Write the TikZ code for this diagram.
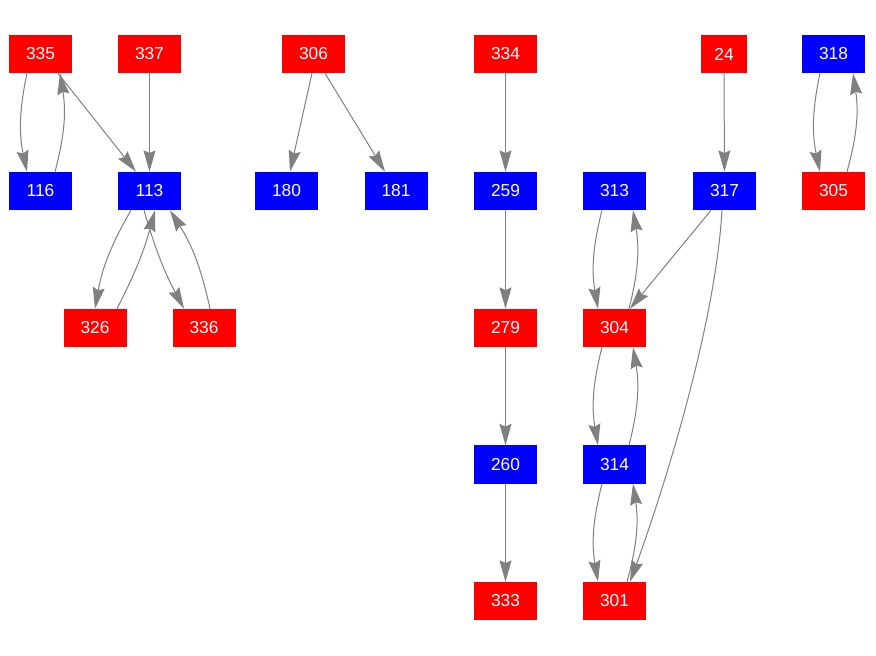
\documentclass[tikz,border=0pt]{standalone}
\usepackage{fontspec}
\setmainfont{Liberation Sans}
\usetikzlibrary{arrows.meta,calc}

\begin{document}
\begin{tikzpicture}[x=0.75pt,y=-0.75pt,
        box/.style={minimum width=47.25pt,minimum height=28.5pt,inner sep=0pt,text=white,font=\fontsize{13}{15}\selectfont},
        redbox/.style={box,fill=red},
        bluebox/.style={box,fill=blue},
        link/.style={draw=gray,line width=0.75pt,-{Stealth[length=16pt,width=9pt,inset=2pt]}}]
            \useasboundingbox (0,0) rectangle (876,656);
            % top row
            \node[redbox] (v335) at (40.5,54) {335};
            \node[redbox] (v337) at (149.5,54) {337};
            \node[redbox] (v306) at (313.5,54) {306};
            \node[redbox] (v334) at (505.5,54) {334};
            \node[redbox,minimum width=34.5pt] (v24) at (724,54) {24};
            \node[bluebox] (v318) at (833.5,54) {318};
            % second row
            \node[bluebox] (v116) at (40.5,191) {116};
            \node[bluebox] (v113) at (149.5,191) {113};
            \node[bluebox] (v180) at (286.5,191) {180};
            \node[bluebox] (v181) at (396,191) {181};
            \node[bluebox] (v259) at (505.5,191) {259};
            \node[bluebox] (v313) at (614.5,191) {313};
            \node[bluebox] (v317) at (724.5,191) {317};
            \node[redbox] (v305) at (833.5,191) {305};
            % lower rows
            \node[redbox] (v326) at (95,328) {326};
            \node[redbox] (v336) at (204,328) {336};
            \node[redbox] (v279) at (505.5,328) {279};
            \node[redbox] (v304) at (614.5,328) {304};
            \node[bluebox] (v260) at (505.5,464.5) {260};
            \node[bluebox] (v314) at (614.5,464.5) {314};
            \node[redbox] (v333) at (505.5,601) {333};
            \node[redbox] (v301) at (614.5,601) {301};
            % edges
            \draw[link] ($(v335.south)+(-13.5,0)$) to[bend right=12] ($(v116.north)+(-13.5,0)$);
            \draw[link] ($(v116.north)+(14.5,0)$) to[bend right=12] ($(v335.south)+(19.5,0)$);
            \draw[link] ($(v335.south)+(17.5,0)$) -- ($(v113.north)+(-13.5,0)$);
            \draw[link] (v337) -- (v113);
            \draw[link] ($(v113.south)+(-18.5,0)$) to[bend right=10] (v326.north);
            \draw[link] ($(v326.north)+(22,0)$) to[bend right=6] ($(v113.south)+(5.5,0)$);
            \draw[link] ($(v113.south)+(-5.5,0)$) to[bend right=6] ($(v336.north)+(-20,0)$);
            \draw[link] ($(v336.north)+(6,0)$) to[bend right=10] ($(v113.south)+(20.5,0)$);
            \draw[link] ($(v306.south)+(-1.5,0)$) -- ($(v180.north)+(3.5,0)$);
            \draw[link] ($(v306.south)+(11.5,0)$) -- ($(v181.north)+(-11,0)$);
            \draw[link] (v334) -- (v259);
            \draw[link] (v259) -- (v279);
            \draw[link] (v279) -- (v260);
            \draw[link] (v260) -- (v333);
            \draw[link] (v24) -- (v317);
            \draw[link] ($(v317.south)+(-13.5,0)$) -- ($(v304.north)+(15.5,0)$);
            \draw[link] ($(v317.south)+(-2.5,0)$) .. controls +(-7,120) and +(30,-82) .. ($(v301.north)+(15.5,0)$);
            \draw[link] ($(v313.south)+(-12.5,0)$) to[bend right=12] ($(v304.north)+(-16.5,0)$);
            \draw[link] ($(v304.north)+(14.5,0)$) to[bend right=12] ($(v313.south)+(18.5,0)$);
            \draw[link] ($(v304.south)+(-12.5,0)$) to[bend right=12] ($(v314.north)+(-16.5,0)$);
            \draw[link] ($(v314.north)+(14.5,0)$) to[bend right=12] ($(v304.south)+(18.5,0)$);
            \draw[link] ($(v314.south)+(-12.5,0)$) to[bend right=12] ($(v301.north)+(-16.5,0)$);
            \draw[link] ($(v301.north)+(12.5,0)$) to[bend right=12] ($(v314.south)+(18.5,0)$);
            \draw[link] ($(v318.south)+(-13.5,0)$) to[bend right=12] ($(v305.north)+(-13.5,0)$);
            \draw[link] ($(v305.north)+(13.5,0)$) to[bend right=12] ($(v318.south)+(19.5,0)$);
        \end{tikzpicture}
\end{document}
